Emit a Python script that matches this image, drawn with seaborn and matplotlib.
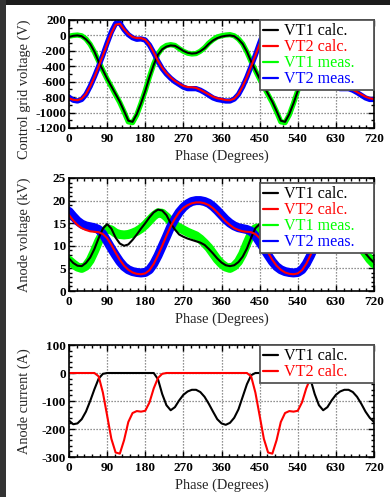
import numpy as np
import pandas as pd
import matplotlib
matplotlib.use("Agg")
import matplotlib.pyplot as plt
from matplotlib.patches import Rectangle
from matplotlib.ticker import MultipleLocator
from matplotlib.font_manager import FontProperties
import seaborn as sns

# ---------------------------------------------------------------- data
phase = np.arange(0, 721, 10)  # degrees

grid_vt1_calc = [-20, -5, 0, -10, -50, -110, -210, -340, -450, -560,
                 -660, -760, -860, -980, -1105, -1120, -1020, -880, -720, -540,
                 -380, -250, -180, -145, -130, -135, -165, -200, -225, -235,
                 -230, -205, -165, -110, -65, -35, -15, -5, 0, -10,
                 -50, -110, -210, -340, -450, -560, -660, -760, -860, -980,
                 -1105, -1120, -1020, -880, -720, -540, -380, -250, -180, -145,
                 -130, -135, -165, -200, -225, -235, -230, -205, -165, -110,
                 -65, -35, -20]
grid_vt2_calc = [-815, -835, -840, -820, -760, -660, -540, -400, -260, -110,
                 30, 140, 150, 80, 20, -20, -35, -35, -55, -120,
                 -220, -330, -420, -490, -545, -590, -625, -655, -670, -672,
                 -680, -705, -735, -765, -795, -815, -825, -838, -840, -820,
                 -760, -660, -540, -400, -260, -110, 30, 140, 150, 80,
                 20, -20, -35, -35, -55, -120, -220, -330, -420, -490,
                 -545, -590, -625, -655, -670, -672, -680, -705, -735, -765,
                 -795, -815, -825]
grid_vt1_meas = [-10, 0, 5, -5, -45, -115, -215, -335, -455, -565,
                 -665, -770, -870, -990, -1120, -1130, -1030, -880, -715, -535,
                 -370, -240, -165, -130, -120, -130, -170, -205, -230, -240,
                 -235, -205, -160, -100, -55, -20, -5, 5, 10, -5,
                 -45, -110, -215, -340, -455, -565, -665, -770, -870, -990,
                 -1120, -1130, -1030, -880, -715, -535, -370, -240, -165, -130,
                 -120, -130, -170, -205, -230, -240, -235, -205, -160, -100,
                 -55, -20, -10]
grid_vt2_meas = [-800, -840, -850, -830, -765, -660, -535, -400, -255, -100,
                 45, 155, 160, 75, 10, -30, -50, -45, -60, -125,
                 -225, -335, -430, -500, -555, -600, -635, -670, -690, -690,
                 -690, -710, -740, -775, -810, -830, -840, -850, -850, -825,
                 -765, -665, -540, -400, -255, -100, 45, 155, 160, 75,
                 10, -30, -50, -45, -60, -125, -225, -335, -430, -500,
                 -555, -600, -635, -670, -690, -690, -690, -710, -740, -775,
                 -810, -830, -830]

anode_vt1_calc = [7.2, 6.2, 5.6, 5.5, 6.2, 7.4, 9.3, 11.7, 13.8, 14.8,
                  13.8, 11.8, 10.5, 10.0, 10.3, 11.3, 12.5, 13.8, 15.0, 16.3,
                  17.4, 18.0, 17.8, 16.8, 15.0, 13.6, 12.5, 12.0, 11.6, 11.3,
                  11.0, 10.7, 10.2, 9.3, 8.3, 7.2, 6.3, 5.7, 5.5, 5.7,
                  6.4, 7.6, 9.4, 11.8, 13.9, 14.8, 13.8, 11.8, 10.5, 10.0,
                  10.3, 11.3, 12.5, 13.8, 15.0, 16.3, 17.4, 18.0, 17.8, 16.8,
                  15.0, 13.6, 12.5, 12.0, 11.6, 11.3, 11.0, 10.7, 10.2, 9.3,
                  8.3, 7.2, 6.3]
anode_vt2_calc = [16.8, 15.6, 14.6, 13.9, 13.5, 13.2, 13.1, 13.0, 12.6, 11.7,
                  10.2, 8.5, 6.9, 5.6, 4.7, 4.1, 3.8, 3.7, 3.9, 4.6,
                  6.0, 7.9, 10.0, 12.2, 14.3, 16.0, 17.4, 18.4, 19.0, 19.4,
                  19.6, 19.6, 19.4, 19.0, 18.3, 17.4, 16.4, 15.4, 14.6, 13.9,
                  13.5, 13.2, 13.1, 13.0, 12.6, 11.7, 10.2, 8.5, 6.9, 5.6,
                  4.7, 4.1, 3.8, 3.7, 3.9, 4.6, 6.0, 7.9, 10.0, 12.2,
                  14.3, 16.0, 17.4, 18.4, 19.0, 19.4, 19.6, 19.6, 19.4, 19.0,
                  18.3, 17.4, 16.4]
anode_vt1_meas = [6.8, 6.0, 5.3, 5.0, 5.5, 6.8, 8.8, 11.0, 12.8, 13.8,
                  13.5, 12.8, 12.5, 12.4, 12.5, 12.8, 13.2, 13.8, 14.6, 15.6,
                  16.6, 17.3, 17.2, 16.4, 15.4, 14.6, 14.0, 13.5, 13.0, 12.6,
                  12.2, 11.5, 10.6, 9.6, 8.3, 7.0, 6.0, 5.3, 5.0, 5.5,
                  6.5, 8.2, 10.5, 12.6, 13.8, 14.0, 13.5, 12.8, 12.5, 12.4,
                  12.5, 12.8, 13.2, 13.8, 14.6, 15.6, 16.6, 17.3, 17.2, 16.4,
                  15.4, 14.6, 14.0, 13.5, 13.0, 12.6, 12.2, 11.5, 10.6, 9.6,
                  8.3, 7.0, 6.0]
anode_vt2_meas = [17.6, 16.5, 15.5, 14.8, 14.4, 14.2, 14.0, 13.6, 12.6, 11.0,
                  9.4, 7.9, 6.5, 5.4, 4.7, 4.3, 4.1, 4.0, 4.1, 4.7,
                  6.0, 7.8, 9.9, 12.0, 14.2, 15.9, 17.4, 18.5, 19.3, 19.8,
                  20.0, 20.0, 19.8, 19.4, 18.7, 17.8, 16.8, 15.8, 15.0, 14.4,
                  14.0, 13.8, 13.6, 13.2, 12.2, 10.8, 9.4, 7.9, 6.5, 5.4,
                  4.7, 4.3, 4.1, 4.0, 4.1, 4.7, 6.0, 7.8, 9.9, 12.0,
                  14.2, 15.9, 17.4, 18.5, 19.3, 19.8, 20.0, 20.0, 19.8, 19.4,
                  18.7, 17.8, 16.8]

current_vt1_calc = [-170, -183, -180, -165, -138, -100, -58, -20, -3, 0,
                    0, 0, 0, 0, 0, 0, 0, 0, 0, 0,
                    0, -22, -75, -115, -133, -122, -98, -78, -66, -60,
                    -60, -68, -85, -110, -138, -165, -180, -185, -178, -160,
                    -130, -85, -40, -8, 0, 0, 0, 0, 0, 0,
                    0, 0, 0, 0, 0, 0, 0, -22, -75, -115,
                    -133, -122, -98, -78, -66, -60, -60, -68, -85, -110,
                    -138, -160, -175]
current_vt2_calc = [0, 0, 0, 0, 0, 0, 0, -12, -70, -152,
                    -235, -284, -288, -240, -175, -143, -136, -138, -135, -105,
                    -55, -18, -3, 0, 0, 0, 0, 0, 0, 0,
                    0, 0, 0, 0, 0, 0, 0, 0, 0, 0,
                    0, 0, 0, -12, -70, -152, -235, -284, -288, -240,
                    -175, -143, -136, -138, -135, -105, -55, -18, -3, 0,
                    0, 0, 0, 0, 0, 0, 0, 0, 0, 0,
                    0, 0, 0]

# ---------------------------------------------------------------- style
sns.set_theme(context="paper", style="ticks")
SERIF = ["Liberation Serif", "DejaVu Serif"]
plt.rcParams["font.family"] = SERIF
plt.rcParams["axes.unicode_minus"] = False

BLACK, RED, GREEN, BLUE = "black", "#ff0000", "#00ff00", "#0000ff"

W, H = 390, 497
fig = plt.figure(figsize=(W / 100, H / 100), dpi=100)
fig.patch.set_facecolor("white")

# dark screen border (top band and left strip)
fig.patches.append(Rectangle((0, 1 - 5 / H), 1, 5 / H, transform=fig.transFigure,
                             facecolor="#1c1c1c", edgecolor="none", zorder=-1))
fig.patches.append(Rectangle((0, 0), 6 / W, 1, transform=fig.transFigure,
                             facecolor="#333333", edgecolor="none", zorder=-1))


def px_axes(top, bottom, left=69, right=374):
    return fig.add_axes([left / W, 1 - bottom / H, (right - left) / W, (bottom - top) / H])


tick_font = FontProperties(family=SERIF, weight="bold", size=9.5)
label_font = FontProperties(family=SERIF, size=10.4)
legend_font = FontProperties(family=SERIF, size=11.6)


def style_axes(ax, ylim, ymajor, yminor, ylabel, label_y=0.5):
    ax.set_xlim(0, 720)
    ax.set_ylim(*ylim)
    ax.xaxis.set_major_locator(MultipleLocator(90))
    ax.xaxis.set_minor_locator(MultipleLocator(18))
    ax.yaxis.set_major_locator(MultipleLocator(ymajor))
    ax.yaxis.set_minor_locator(MultipleLocator(yminor))
    ax.grid(True, which="major", color="#6f6f6f", linestyle=(0, (1, 1.4)), linewidth=0.9)
    ax.tick_params(which="both", direction="in", top=True, right=True, width=1.0,
                   colors="black")
    ax.tick_params(axis="y", which="both", pad=2)
    ax.tick_params(axis="x", which="both", pad=3.5)
    ax.tick_params(which="major", length=4)
    ax.tick_params(which="minor", length=2.4)
    for lab in ax.get_xticklabels() + ax.get_yticklabels():
        lab.set_fontproperties(tick_font)
    for sp in ax.spines.values():
        sp.set_linewidth(1.2)
        sp.set_color("black")
        sp.set_zorder(5)
    ax.set_xlabel("Phase (Degrees)", fontproperties=label_font, labelpad=3)
    ax.set_ylabel(ylabel, fontproperties=label_font)
    ax.yaxis.set_label_coords(-0.125, label_y)


def draw_legend(ax, handles, labels, colors, height_px, top_px=0):
    h_ax = ax.get_position().height * H
    top = 1 - top_px / h_ax
    hgt = height_px / h_ax
    leg = ax.legend(handles, labels, loc="upper left", mode="expand",
                    bbox_to_anchor=(0.626, top - hgt, 0.374, hgt),
                    prop=legend_font, frameon=True, fancybox=False, framealpha=1.0,
                    edgecolor="#555555", borderaxespad=0.0, borderpad=0.2,
                    handlelength=0.95, handletextpad=0.35, labelspacing=0.0)
    leg.get_frame().set_linewidth(1.3)
    leg.set_zorder(10)
    for line, txt, c in zip(leg.get_lines(), leg.get_texts(), colors):
        line.set_linewidth(1.6)
        txt.set_color(c)
    return leg


order = [2, 3, 0, 1]
four_colors = [BLACK, RED, GREEN, BLUE]

# ---------------------------------------------------------------- panel 1: control grid voltage
ax1 = px_axes(20, 128)
sns.lineplot(x=phase, y=grid_vt1_meas, color=GREEN, lw=3.8, ax=ax1, label="VT1 meas.")
sns.lineplot(x=phase, y=grid_vt2_meas, color=BLUE, lw=3.8, ax=ax1, label="VT2 meas.")
sns.lineplot(x=phase, y=grid_vt1_calc, color=BLACK, lw=1.5, ax=ax1, label="VT1 calc.")
sns.lineplot(x=phase, y=grid_vt2_calc, color=RED, lw=1.5, ax=ax1, label="VT2 calc.")
style_axes(ax1, (-1200, 200), 200, 100, "Control grid voltage (V)", label_y=0.36)
h, l = ax1.get_legend_handles_labels()
draw_legend(ax1, [h[i] for i in order], [l[i] for i in order], four_colors, 78)

# ---------------------------------------------------------------- panel 2: anode voltage
ax2 = px_axes(178, 291)
sns.lineplot(x=phase, y=anode_vt1_meas, color=GREEN, lw=6.5, ax=ax2, label="VT1 meas.")
sns.lineplot(x=phase, y=anode_vt2_meas, color=BLUE, lw=6.5, ax=ax2, label="VT2 meas.")
sns.lineplot(x=phase, y=anode_vt1_calc, color=BLACK, lw=1.5, ax=ax2, label="VT1 calc.")
sns.lineplot(x=phase, y=anode_vt2_calc, color=RED, lw=1.5, ax=ax2, label="VT2 calc.")
style_axes(ax2, (0, 25), 5, 1, "Anode voltage (kV)")
h, l = ax2.get_legend_handles_labels()
draw_legend(ax2, [h[i] for i in order], [l[i] for i in order], four_colors, 84, top_px=5)

# ---------------------------------------------------------------- panel 3: anode current
ax3 = px_axes(345, 457)
sns.lineplot(x=phase, y=current_vt1_calc, color=BLACK, lw=1.5, ax=ax3, label="VT1 calc.")
sns.lineplot(x=phase, y=current_vt2_calc, color=RED, lw=1.5, ax=ax3, label="VT2 calc.")
style_axes(ax3, (-300, 100), 100, 20, "Anode current (A)")
h, l = ax3.get_legend_handles_labels()
draw_legend(ax3, h, l, [BLACK, RED], 49)

fig.savefig("out.png", dpi=100, facecolor="white")
